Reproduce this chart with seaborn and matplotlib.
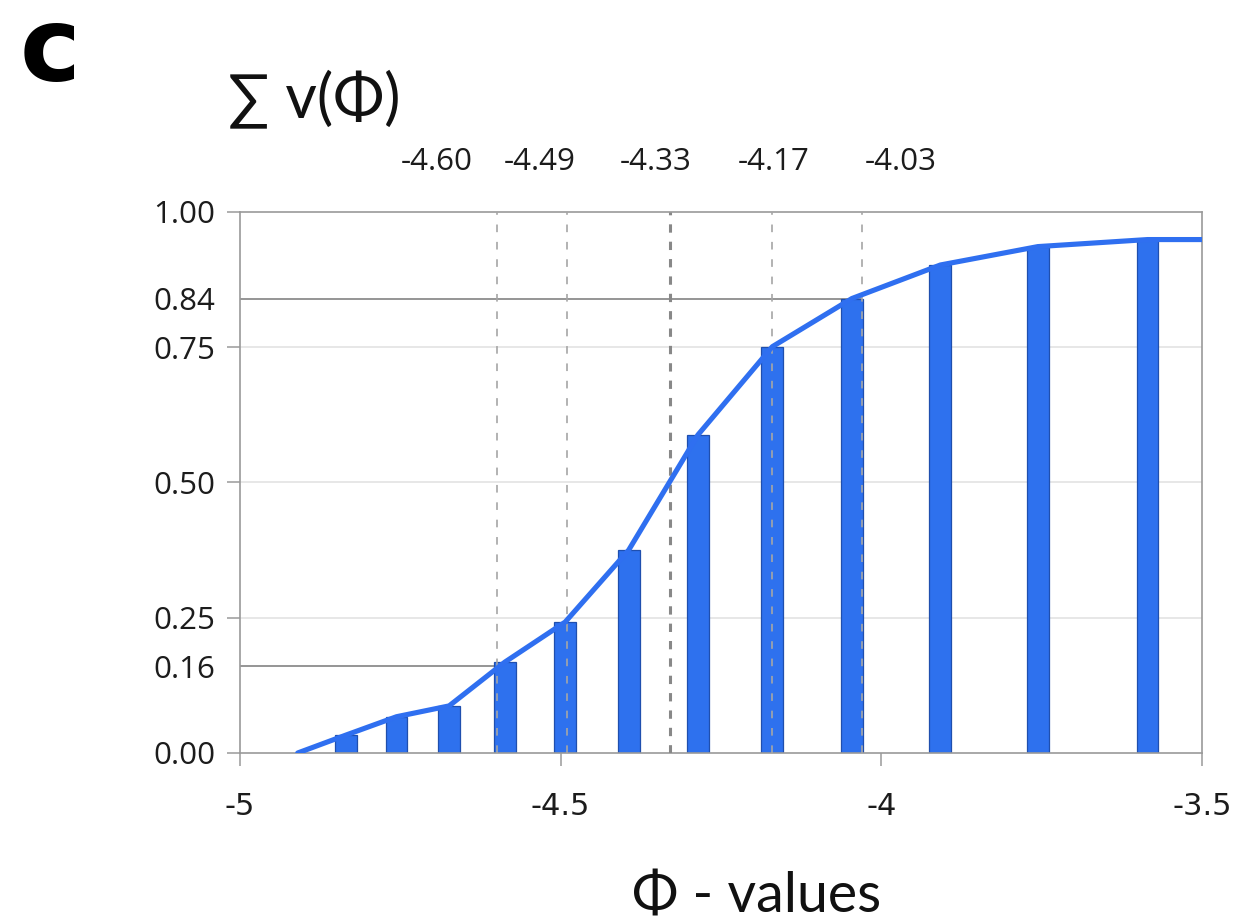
import numpy as np
import matplotlib
matplotlib.use("Agg")
import matplotlib.pyplot as plt
import seaborn as sns

# Cumulative volume fraction vs. phi
phi = [-4.835, -4.756, -4.674, -4.587, -4.493, -4.394, -4.286, -4.170, -4.046, -3.908, -3.756, -3.585]
cum_frac = [0.033, 0.067, 0.087, 0.168, 0.242, 0.375, 0.588, 0.751, 0.840, 0.902, 0.936, 0.949]

# Cumulative curve (starts at zero, levels off at the right edge)
curve_phi = [-4.910] + phi + [-3.5]
curve_frac = [0.0] + cum_frac + [0.949]

# Percentile phi values marked with dashed lines
pct_phi = [-4.60, -4.49, -4.33, -4.17, -4.03]
pct_labels = ["-4.60", "-4.49", "-4.33", "-4.17", "-4.03"]
median_phi = -4.33

# Horizontal guides at the 16th and 84th percentile
guide_levels = [0.16, 0.84]
guide_ends = [-4.60, -4.03]

yticks = [0.00, 0.16, 0.25, 0.50, 0.75, 0.84, 1.00]
ytick_labels = ["0.00", "0.16", "0.25", "0.50", "0.75", "0.84", "1.00"]
xticks = [-5, -4.5, -4, -3.5]
xtick_labels = ["-5", "-4.5", "-4", "-3.5"]

sns.set_theme(style="white")
plt.rcParams["font.family"] = ["Open Sans", "DejaVu Sans"]
plt.rcParams["lines.scale_dashes"] = False

BAR = "#2e71ee"
BAR_EDGE = "#1f4fae"
LINE = "#2f6ff0"
AX_GREY = "#9a9a9a"
TXT = "#1c1c1c"

fig = plt.figure(figsize=(12.52, 9.24), dpi=100)
ax = fig.add_axes([0.1917, 0.1851, 0.7684, 0.5855])

# light grid at quartiles
for lvl in [0.25, 0.50, 0.75]:
    ax.axhline(lvl, color="#e3e3e3", lw=1.2, zorder=0)

# percentile guides
for lvl, xe in zip(guide_levels, guide_ends):
    ax.hlines(lvl, -5, xe, color="#8c8c8c", lw=1.3, zorder=1)

bar_w = 0.034
sns.barplot(x=phi, y=cum_frac, native_scale=True, width=bar_w / np.diff(phi).min(),
            color=BAR, saturation=1, edgecolor=BAR_EDGE, linewidth=0.9,
            errorbar=None, ax=ax, zorder=2)

for v in pct_phi:
    if v == median_phi:
        ax.axvline(v, color="#888888", lw=2.2, ls=(0, (6, 6.5)), zorder=3)
    else:
        ax.axvline(v, color="#a6a6a6", lw=1.2, ls=(0, (5.5, 7)), zorder=3)

sns.lineplot(x=curve_phi, y=curve_frac, color=LINE, lw=3.7, ax=ax, zorder=4,
             solid_capstyle="round")

ax.set_xlim(-5, -3.5)
ax.set_ylim(0, 1)
ax.set_xticks(xticks)
ax.set_xticklabels(xtick_labels, family=["Liberation Sans Narrow", "DejaVu Sans"],
                   fontsize=22, color=TXT)
ax.set_yticks(yticks)
ax.set_yticklabels(ytick_labels, fontsize=22.5, color=TXT)
ax.tick_params(axis="x", length=9.4, width=1.1, color=AX_GREY, pad=19, direction="out",
               bottom=True)
ax.tick_params(axis="y", length=9.4, width=1.1, color=AX_GREY, pad=8.5, direction="out",
               left=True)
for t, val in zip(ax.yaxis.get_major_ticks(), yticks):
    if val in guide_levels:
        t.tick1line.set_visible(False)

for s in ax.spines.values():
    s.set_color(AX_GREY)
    s.set_linewidth(1.2)
    s.set_visible(True)
ax.set_xlabel("")
ax.set_ylabel("")

# percentile labels above the plot
label_shift_px = [-60, -27, -14, 1, 39]
for v, lab, dx in zip(pct_phi, pct_labels, label_shift_px):
    ax.annotate(lab, xy=(v, 1), xycoords=("data", "axes fraction"),
                xytext=(dx * 0.72, 36), textcoords="offset points",
                ha="center", va="center", fontsize=22.5, color=TXT)

fig.text(0.016, 1 - 81 / 924, "c", fontsize=74, fontweight="bold",
         family="DejaVu Sans", va="baseline", ha="left", color="black")
fig.text(228 / 1252, 1 - 117 / 924, "∑ v(Φ)", fontsize=44,
         family=["Lato", "DejaVu Sans"], va="baseline", ha="left", color="#111111")
fig.text(757 / 1252, 1 - 912 / 924, "Φ - values", fontsize=40,
         family=["Lato", "DejaVu Sans"], va="baseline", ha="center", color="#111111")

fig.savefig("out.png", dpi=100, facecolor="white")
